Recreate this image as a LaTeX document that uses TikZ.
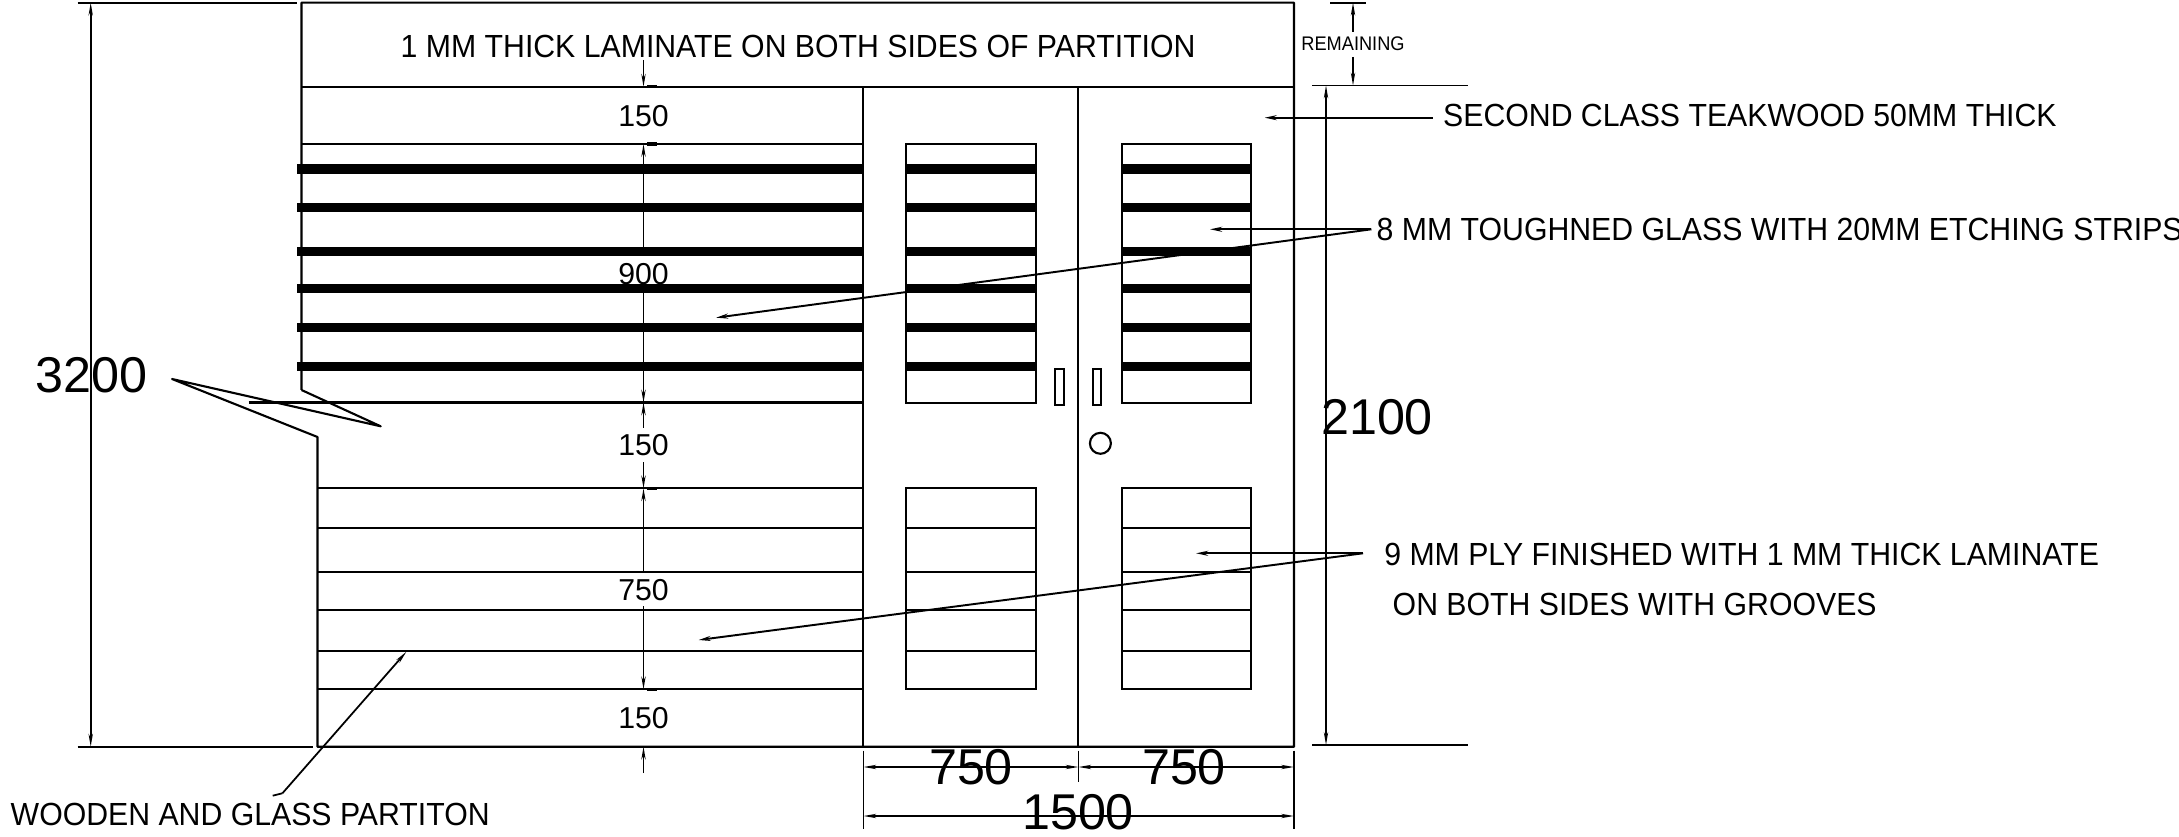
\documentclass[tikz,border=0pt]{standalone}
\usepackage{fontspec}
\setmainfont{Liberation Sans}
\newfontfamily\notefont[FakeStretch=0.945]{Liberation Sans}
\newfontfamily\tinyfont[FakeStretch=0.925]{Liberation Sans}
\usetikzlibrary{arrows.meta}
\tikzset{
  wall/.style={line width=0.6pt},
  strip/.style={line width=2.6pt},
  thin line/.style={line width=0.5pt},
  tipped/.style={line width=0.5pt, -{Stealth[length=3.6pt,width=1.2pt]}},
  twotipped/.style={line width=0.5pt, {Stealth[length=3.6pt,width=1.2pt]}-{Stealth[length=3.6pt,width=1.2pt]}},
  callout/.style={line width=0.55pt, -{Stealth[length=3.4pt,width=1.4pt]}},
  note/.style={inner sep=0pt, anchor=west, font=\notefont\fontsize{9.1}{11}\selectfont},
  num/.style={inner sep=0pt, font=\fontsize{8.6}{10}\selectfont},
  bignum/.style={inner sep=0pt, font=\fontsize{14.3}{16}\selectfont}
}
\begin{document}
\begin{tikzpicture}[x=0.01cm, y=-0.01cm]
  \useasboundingbox (0,0) rectangle (2179,837);

  \draw[wall, line join=round] (301.5,390) -- (301.5,2.7) -- (1294,2.7) -- (1294,746.7) -- (317.5,746.7) -- (317.5,437)
    -- (172,379) -- (380.7,426.3) -- (301.5,390);
  \draw[wall] (77.5,2.7) -- (297,2.7);
  \draw[wall] (77.5,746.7) -- (313,746.7);
  \draw[wall] (301.5,86.7) -- (1294,86.7);
  \draw[wall] (863.4,86.7) -- (863.4,746.7);
  \draw[wall] (1078.4,86.7) -- (1078.4,746.7);
  \draw[wall] (301.5,144) -- (863.4,144);
  \draw[wall] (248.6,402.5) -- (863.4,402.5);
  \draw[wall] (317.5,488.3) -- (863.4,488.3);
  \draw[wall] (317.5,689.3) -- (863.4,689.3);

  \foreach \xa/\xb in {906/1035.7, 1121.6/1251.3} {
    \draw[wall] (\xa,144) rectangle (\xb,402.7);
    \draw[wall] (\xa,488.3) rectangle (\xb,689.3);
  }
  \foreach \y in {169,207.5,251.5,288.5,327.7,366.7} {
    \draw[strip] (297.4,\y) -- (863.4,\y);
    \draw[strip] (906,\y) -- (1035.7,\y);
    \draw[strip] (1121.6,\y) -- (1251.3,\y);
  }
  \foreach \y in {528.3,572.3,610,650.7} {
    \draw[wall] (317.5,\y) -- (863.4,\y);
    \draw[wall] (906,\y) -- (1035.7,\y);
    \draw[wall] (1121.6,\y) -- (1251.3,\y);
  }

  \draw[wall] (1055.2,369) rectangle (1064.3,404.7);
  \draw[wall] (1093,369) rectangle (1101.2,404.7);
  \draw[wall] (1100.4,443.3) circle (10.5);

  \foreach \y in {86.7,144,402.5,488.3,689.3}
    \draw[line width=1pt] (647,\y) -- (657,\y);

  \node[note] (topnote) at (400,46.7) {1 MM THICK LAMINATE ON BOTH SIDES OF PARTITION};
  \node[note] (teaknote) at (1442.5,115.7) {SECOND CLASS TEAKWOOD 50MM THICK};
  \node[note] (glassnote) at (1376,229.3) {8 MM TOUGHNED GLASS WITH 20MM ETCHING STRIPS};
  \node[note] (plynote) at (1383.6,554.5) {9 MM PLY FINISHED WITH 1 MM THICK LAMINATE};
  \node[note] (plynote2) at (1392,604) {ON BOTH SIDES WITH GROOVES};
  \node[note] (partnote) at (10,814) {WOODEN AND GLASS PARTITON};
  \node[inner sep=0pt, font=\tinyfont\fontsize{5.6}{7}\selectfont] (remain) at (1353,44) {REMAINING};

  \node[num] (upper) at (643.5,116.3) {150};
  \node[num] (glassh) at (643.5,274) {900};
  \node[num] (lintel) at (643.5,445) {150};
  \node[num] (plyh) at (643.5,590) {750};
  \node[num] (plinth) at (643.5,718) {150};

  \node[bignum] (height) at (91.5,375) {3200};
  \node[bignum] (doorh) at (1377,416.7) {2100};
  \node[bignum] (leafa) at (971,767) {750};
  \node[bignum] (leafb) at (1184,767) {750};
  \node[bignum] (doorw) at (1078,812) {1500};

  \coordinate (glassa) at (1210,229.3);
  \coordinate (glassb) at (716,317.7);
  \coordinate (glassend) at (1371.4,229.3);
  \coordinate (plya) at (1196,553.3);
  \coordinate (plyb) at (698.6,640);
  \coordinate (plyend) at (1363,553.3);
  \coordinate (teakpt) at (1264.6,117.7);
  \coordinate (teakend) at (1432.5,117.7);
  \coordinate (bendpt) at (282.4,793.3);
  \coordinate (bendend) at (272.7,795.7);
  \coordinate (railpt) at (406.4,651.7);

  \draw[callout] (teakend) -- (teakpt);
  \draw[callout] (glassend) -- (glassa);
  \draw[callout] (glassend) -- (glassb);
  \draw[callout] (plyend) -- (plya);
  \draw[callout] (plyend) -- (plyb);
  \draw[thin line] (bendend) -- (bendpt);
  \draw[tipped] (bendpt) -- (railpt);

  \draw[twotipped] (90.7,2.7) -- (90.7,746.7);
  \draw[twotipped] (1326,85.5) -- (1326,745);
  \draw[thin line] (1312.3,85.5) -- (1467.7,85.5);
  \draw[thin line] (1312.3,745) -- (1467.7,745);
  \draw[thin line] (1330,2.7) -- (1366,2.7);
  \draw[tipped] (1353,32) -- (1353,2.7);
  \draw[tipped] (1353,57) -- (1353,85.5);

  \draw[tipped] (643.5,60) -- (643.5,86.7);
  \draw[tipped] (643.5,256) -- (643.5,144);
  \draw[tipped] (643.5,293) -- (643.5,402.5);
  \draw[tipped] (643.5,428) -- (643.5,402.5);
  \draw[tipped] (643.5,462) -- (643.5,488.3);
  \draw[tipped] (643.5,571.7) -- (643.5,488.3);
  \draw[tipped] (643.5,606) -- (643.5,689.3);
  \draw[tipped] (643.5,773) -- (643.5,746.7);

  \draw[thin line] (863.4,750.7) -- (863.4,829);
  \draw[thin line] (1078.4,750.7) -- (1078.4,781.7);
  \draw[thin line] (1294,750.7) -- (1294,829);
  \draw[twotipped] (863.4,767) -- (1078.4,767);
  \draw[twotipped] (1078.4,767) -- (1294,767);
  \draw[twotipped] (863.4,816) -- (1294,816);
\end{tikzpicture}
\end{document}
